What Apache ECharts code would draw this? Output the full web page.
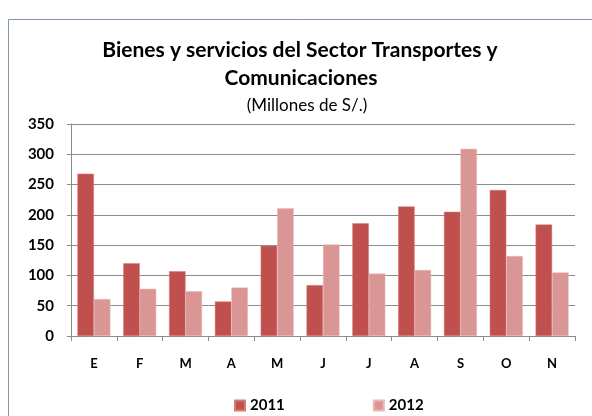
<!DOCTYPE html>
<html>
<head>
<meta charset="utf-8">
<script src="https://cdn.jsdelivr.net/npm/echarts@6/dist/echarts.min.js"></script>
<style>
  html, body { margin: 0; padding: 0; background: #fff; }
  #chart { width: 592px; height: 416px; }
</style>
</head>
<body>
<div id="chart"></div>
<script>
// datos
const meses = ['E', 'F', 'M', 'A', 'M', 'J', 'J', 'A', 'S', 'O', 'N']
const serie2011 = [268, 120, 107, 57, 149, 84, 186, 214, 205, 241, 184]
const serie2012 = [61, 78, 74, 80, 211, 151, 103, 109, 309, 132, 105]
const ticksY = [0, 50, 100, 150, 200, 250, 300, 350]

const fuente = 'Lato'
const chart = echarts.init(document.getElementById('chart'))

chart.setOption({
  animation: false,
  textStyle: { fontFamily: fuente },
  graphic: [
    {
      type: 'rect',
      shape: { x: 8.5, y: 19.5, width: 600, height: 420 },
      style: { fill: 'none', stroke: '#7f95ab', lineWidth: 1 },
      z: -1
    },
    {
      type: 'text',
      x: 300,
      y: 50,
      style: {
        text: 'Bienes y servicios del Sector Transportes y',
        font: 'bold 21px ' + fuente,
        fill: '#000',
        align: 'center',
        verticalAlign: 'middle'
      }
    },
    {
      type: 'text',
      x: 301,
      y: 78,
      style: {
        text: 'Comunicaciones',
        font: 'bold 21px ' + fuente,
        fill: '#000',
        align: 'center',
        verticalAlign: 'middle'
      }
    },
    {
      type: 'text',
      x: 307,
      y: 106,
      style: {
        text: '(Millones de S/.)',
        font: '17px ' + fuente,
        fill: '#000',
        align: 'center',
        verticalAlign: 'middle'
      }
    }
  ],
  legend: {
    top: 398,
    left: 234,
    padding: 0,
    itemGap: 88,
    itemWidth: 10,
    itemHeight: 10,
    icon: 'rect',
    textStyle: { fontWeight: 'bold', fontSize: 15, color: '#000', fontFamily: fuente }
  },
  grid: { left: 71, right: 17, top: 124, bottom: 80, containLabel: false },
  xAxis: {
    type: 'category',
    data: meses,
    axisLine: { lineStyle: { color: '#8c8c8c' } },
    axisTick: { show: true, lineStyle: { color: '#8c8c8c' }, length: 5 },
    axisLabel: { fontWeight: 'bold', fontSize: 13, color: '#000', margin: 21 }
  },
  yAxis: {
    type: 'value',
    min: ticksY[0],
    max: ticksY[ticksY.length - 1],
    interval: 50,
    axisLine: { show: true, lineStyle: { color: '#8c8c8c' } },
    axisTick: { show: true, lineStyle: { color: '#8c8c8c' }, length: 4 },
    splitLine: { lineStyle: { color: '#8c8c8c' } },
    axisLabel: { fontWeight: 'bold', fontSize: 15, color: '#000', margin: 17 }
  },
  series: [
    {
      name: '2011',
      type: 'bar',
      data: serie2011,
      barGap: '0%',
      barCategoryGap: '28%',
      itemStyle: { color: '#c0504d', borderColor: '#d27d7b', borderWidth: 0.5 }
    },
    {
      name: '2012',
      type: 'bar',
      data: serie2012,
      itemStyle: { color: '#d99694', borderColor: '#e8b9b8', borderWidth: 0.5 }
    }
  ]
})
</script>
</body>
</html>
